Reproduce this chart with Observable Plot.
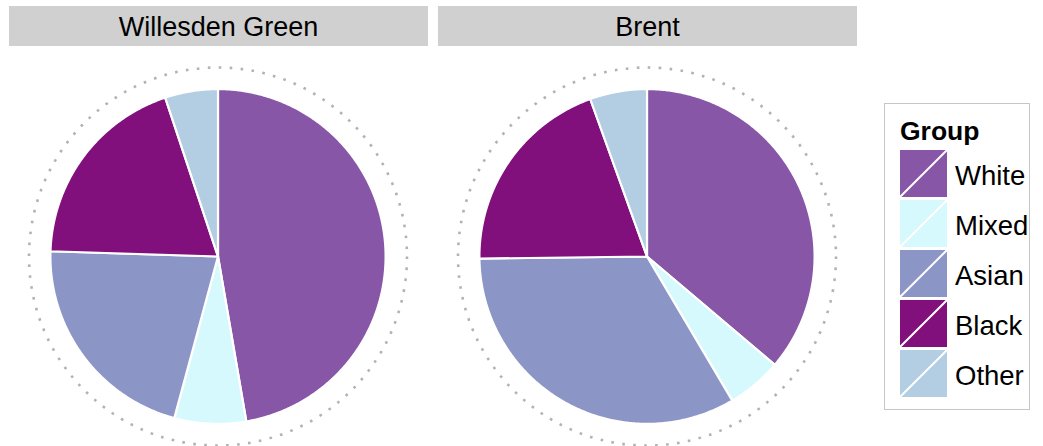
<!DOCTYPE html>
<html>
<head>
<meta charset="utf-8">
<script src="https://cdn.jsdelivr.net/npm/d3@7"></script>
<script src="https://cdn.jsdelivr.net/npm/@observablehq/plot@0.6"></script>
<style>
  html, body { margin: 0; padding: 0; background: #fff; }
  #wrap { position: relative; width: 1043px; height: 446px; font-family: "Liberation Sans", Arial, sans-serif; overflow: hidden; }
  #wrap svg.plot { position: absolute; left: 0; top: 0; }
  .strip { position: absolute; top: 6px; height: 40px; background: #d0d0d0; color: #000; font-size: 27px; line-height: 42px; text-align: center; }
  #legend { position: absolute; left: 884px; top: 103px; width: 144px; height: 305px; border: 1.5px solid #c6c6c6; background: #fff; }
  #legend .title { position: absolute; left: 15px; top: 12px; font-weight: bold; font-size: 26.5px; }
  #legend .item { position: absolute; left: 15px; height: 47px; }
  #legend .item svg { position: absolute; left: 0; top: 0; }
  #legend .item span { position: absolute; left: 55px; top: 2px; line-height: 47px; font-size: 27.5px; white-space: nowrap; }
</style>
</head>
<body>
<div id="wrap"></div>
<script>
const areas = ["Willesden Green", "Brent"];
const groups = ["White", "Mixed", "Asian", "Black", "Other"];
const willesdenGreen = [47.3, 6.9, 21.3, 19.4, 5.1];
const brent = [36.2, 5.3, 33.3, 19.7, 5.5];
const colors = ["#8856a7", "#d5f9fc", "#8c96c6", "#810f7c", "#b3cde3"];
const legendTitle = "Group";

const values = {"Willesden Green": willesdenGreen, "Brent": brent};

// Build slice polygons (centre -> arc -> centre), clockwise from 12 o'clock
const points = [];
for (const area of areas) {
  const vals = values[area];
  const total = d3.sum(vals);
  let start = 0;
  vals.forEach((v, i) => {
    const a0 = start / total * 2 * Math.PI;
    const a1 = (start + v) / total * 2 * Math.PI;
    const key = area + "|" + groups[i];
    points.push({area, group: groups[i], key, x: 0, y: 0});
    const n = Math.max(2, Math.ceil((a1 - a0) / (Math.PI / 360)));
    for (let k = 0; k <= n; k++) {
      const a = a0 + (a1 - a0) * k / n;
      points.push({area, group: groups[i], key, x: Math.sin(a), y: Math.cos(a)});
    }
    points.push({area, group: groups[i], key, x: 0, y: 0});
    start += v;
  });
}

const chart = Plot.plot({
  width: 1043,
  height: 446,
  marginTop: 50,
  marginBottom: 0,
  marginLeft: 8,
  marginRight: 186,
  x: {domain: [-1.25, 1.25], axis: null},
  y: {domain: [-1.135, 1.2306], axis: null},
  fx: {domain: areas, paddingInner: 0.0233, paddingOuter: 0, axis: null},
  color: {domain: groups, range: colors},
  style: {fontFamily: "Liberation Sans, Arial, sans-serif", background: "transparent"},
  marks: [
    Plot.dot(areas, {fx: d => d, x: () => 0, y: () => 0, r: 189, fill: "none",
      stroke: "#b2b2b2", strokeWidth: 2.6, strokeDasharray: "2.6 8.4"}),
    Plot.line(points, {fx: "area", x: "x", y: "y", z: "key", fill: "group",
      stroke: "white", strokeWidth: 2.2, strokeLinejoin: "round", curve: "linear"})
  ]
});
chart.classList.add("plot");
const wrap = document.getElementById("wrap");
wrap.appendChild(chart);

// Facet strips aligned to the fx scale
const fx = chart.scale("fx");
const bw = fx.bandwidth;
for (const a of areas) {
  const d = document.createElement("div");
  d.className = "strip";
  d.style.left = (fx.apply(a) + 1) + "px";
  d.style.width = bw + "px";
  d.textContent = a;
  wrap.appendChild(d);
}

// Legend
const lg = document.createElement("div");
lg.id = "legend";
const t = document.createElement("div");
t.className = "title";
t.textContent = legendTitle;
lg.appendChild(t);
groups.forEach((g, i) => {
  const it = document.createElement("div");
  it.className = "item";
  it.style.top = (46 + i * 50) + "px";
  it.innerHTML = `<svg width="47" height="47"><rect width="47" height="47" fill="${chart.scale("color").apply(g)}"/><line x1="0" y1="47" x2="47" y2="0" stroke="white" stroke-width="2"/></svg><span></span>`;
  it.querySelector("span").textContent = g;
  lg.appendChild(it);
});
wrap.appendChild(lg);
</script>
</body>
</html>
